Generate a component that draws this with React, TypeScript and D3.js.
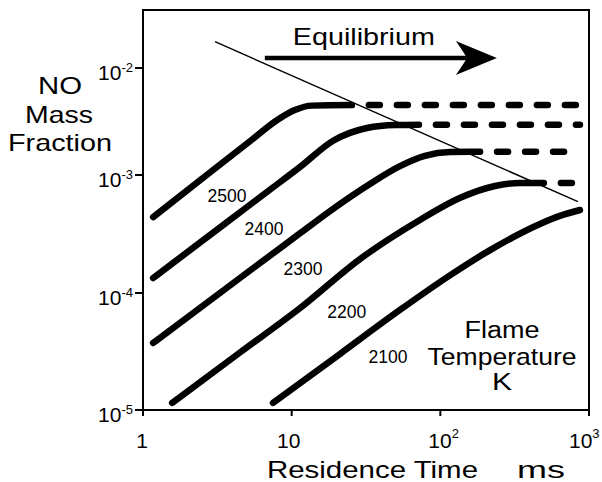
import React from "react";
import * as d3 from "d3";

// NO mass fraction vs residence time (ms), per flame temperature (K)
const temps = ["2500", "2400", "2300", "2200", "2100"];

// kinetic (solid) curves: [time ms, NO mass fraction]
const curve2500: [number, number][] = [
  [1.17, 4.4e-4], [3.05, 1.15e-3], [5.24, 2.07e-3], [8, 3.27e-3], [10.5, 4.05e-3], [13.7, 4.45e-3], [25.4, 4.5e-3],
];
const curve2400: [number, number][] = [
  [1.17, 1.34e-4], [3.62, 3.93e-4], [7.14, 7.5e-4], [11.4, 1.19e-3], [18.9, 2.08e-3], [32.1, 2.75e-3], [50, 2.93e-3], [71.8, 2.95e-3],
];
const curve2300: [number, number][] = [
  [1.17, 3.74e-5], [4.49, 1.34e-4], [11.4, 3.21e-4], [18.1, 4.95e-4], [33.6, 8.4e-4], [53.5, 1.21e-3], [78.7, 1.51e-3], [116, 1.64e-3], [185, 1.65e-3],
];
const curve2200: [number, number][] = [
  [1.57, 1.15e-5], [4.49, 3.1e-5], [11.4, 7.44e-5], [28.8, 1.94e-4], [72.9, 4.16e-4], [135, 6.38e-4], [233, 8.07e-4], [343, 8.55e-4], [497, 8.55e-4],
];
const curve2100: [number, number][] = [
  [7.49, 1.15e-5], [21.1, 3.01e-5], [53.5, 7.16e-5], [116, 1.41e-4], [216, 2.31e-4], [468, 3.85e-4], [637, 4.5e-4], [869, 5.05e-4],
];
const curves = [curve2500, curve2400, curve2300, curve2200, curve2100];

// equilibrium levels (dashed), start and end times
const eqValues = [4.5e-3, 2.95e-3, 1.65e-3, 8.55e-4];
const eqStart = [25.4, 71.8, 185, 497];
const eqEnd = [869, 869, 721, 869];

// thin equilibrium line and arrow
const eqLine: [number, number][] = [[3.05, 1.76e-2], [842, 5.94e-4]];
const arrow: [number, number][] = [[6.6, 1.24e-2], [240, 1.24e-2]];

// curve label anchors (center x, baseline)
const labelPos: [number, number][] = [
  [3.67, 5.9e-4], [6.51, 3.1e-4], [11.9, 1.42e-4], [23.5, 6.1e-5], [44.4, 2.52e-5],
];

const xTicks = [1, 10, 100, 1000];
const xTickBase = ["1", "10", "10", "10"];
const xTickExp = ["", "", "2", "3"];
const yTicks = [1e-5, 1e-4, 1e-3, 1e-2];
const yTickExp = ["-5", "-4", "-3", "-2"];

const W = 602;
const H = 482;
const left = 143;
const right = 589;
const top = 10;
const bottom = 410;
// scanned decades are not quite even
const yDecadePx = [bottom, 293, 175, 68];

const font = "'Liberation Sans', Arial, sans-serif";

export default function App() {
  const x = d3.scaleLog().domain([1, 1000]).range([left, right]);
  const y = d3.scaleLog().domain(yTicks).range(yDecadePx);

  const line = d3
    .line<[number, number]>()
    .x((d) => x(d[0]))
    .y((d) => y(d[1]));

  const tip = [x(arrow[1][0]), y(arrow[1][1])];
  const flameX = x(260);
  const flameY = y(4.12e-5);

  return (
    <svg
      width={W}
      height={H}
      style={{ position: "absolute", left: 0, top: 0, background: "#fff" }}
      fontFamily={font}
    >
      <rect x={left} y={top} width={right - left} height={bottom - top} fill="none" stroke="#000" strokeWidth={2} />

      {/* y ticks */}
      {yTicks.map((t, i) => (
        <g key={"y" + i}>
          <line x1={left - 8} x2={left} y1={y(t)} y2={y(t)} stroke="#000" strokeWidth={2} />
          <text x={left - 10} y={y(t) + 12} textAnchor="end" fontSize={21}>
            10<tspan dy={-8} fontSize={13}>{yTickExp[i]}</tspan>
          </text>
        </g>
      ))}

      {/* x ticks */}
      {xTicks.map((t, i) => (
        <g key={"x" + i}>
          <line x1={x(t)} x2={x(t)} y1={bottom} y2={bottom + 6} stroke="#000" strokeWidth={2} />
          <text
            x={xTickExp[i] ? x(t) - 12 - (i === 3 ? 8 : 0) : x(t) - (i === 1 ? 3 : 1)}
            y={bottom + 38}
            textAnchor={xTickExp[i] ? "start" : "middle"}
            fontSize={21}
          >
            {xTickBase[i]}
            {xTickExp[i] && (
              <tspan dy={-10} fontSize={13}>
                {xTickExp[i]}
              </tspan>
            )}
          </text>
        </g>
      ))}

      {/* thin equilibrium line */}
      <path d={line.curve(d3.curveLinear)(eqLine) || ""} fill="none" stroke="#000" strokeWidth={1.4} />

      {/* kinetic curves */}
      {curves.map((c, i) => (
        <path
          key={"c" + i}
          d={line.curve(d3.curveMonotoneX)(c) || ""}
          fill="none"
          stroke="#000"
          strokeWidth={6.5}
          strokeLinecap="round"
          strokeLinejoin="round"
        />
      ))}

      {/* equilibrium dashed levels */}
      {eqValues.map((v, i) => (
        <line
          key={"e" + i}
          x1={x(eqStart[i])}
          x2={x(eqEnd[i])}
          y1={y(v)}
          y2={y(v)}
          stroke="#000"
          strokeWidth={6.5}
          strokeLinecap="round"
          strokeDasharray="11 17"
          strokeDashoffset={11}
        />
      ))}

      {/* arrow */}
      <line x1={x(arrow[0][0])} x2={tip[0] - 30} y1={y(arrow[0][1])} y2={tip[1]} stroke="#000" strokeWidth={4.5} />
      <path
        d={`M${tip[0]},${tip[1]} L${tip[0] - 41},${tip[1] - 17} Q${tip[0] - 32},${tip[1] - 4} ${tip[0] - 30},${tip[1]} Q${tip[0] - 32},${tip[1] + 4} ${tip[0] - 41},${tip[1] + 17} Z`}
        fill="#000"
      />
      <text x={x(30.6)} y={y(1.64e-2)} textAnchor="middle" fontSize={24} textLength={142} lengthAdjust="spacingAndGlyphs">
        Equilibrium
      </text>

      {/* curve labels */}
      {temps.map((t, i) => (
        <text
          key={"l" + i}
          x={x(labelPos[i][0])}
          y={y(labelPos[i][1])}
          textAnchor="middle"
          fontSize={19}
          textLength={39}
          lengthAdjust="spacingAndGlyphs"
        >
          {t}
        </text>
      ))}

      {/* flame temperature note */}
      <text x={flameX} y={flameY} textAnchor="middle" fontSize={23} textLength={75} lengthAdjust="spacingAndGlyphs">
        Flame
      </text>
      <text x={flameX} y={flameY + 27} textAnchor="middle" fontSize={24} textLength={149} lengthAdjust="spacingAndGlyphs">
        Temperature
      </text>
      <text x={flameX} y={flameY + 52} textAnchor="middle" fontSize={24} textLength={20} lengthAdjust="spacingAndGlyphs">
        K
      </text>

      {/* y title */}
      <text x={60} y={94} textAnchor="middle" fontSize={24} textLength={44} lengthAdjust="spacingAndGlyphs">
        NO
      </text>
      <text x={59} y={123} textAnchor="middle" fontSize={24} textLength={68} lengthAdjust="spacingAndGlyphs">
        Mass
      </text>
      <text x={60} y={151} textAnchor="middle" fontSize={24} textLength={104} lengthAdjust="spacingAndGlyphs">
        Fraction
      </text>

      {/* x title */}
      <text x={267} y={478} fontSize={24} textLength={211} lengthAdjust="spacingAndGlyphs">
        Residence Time
      </text>
      <text x={517} y={478} fontSize={24} textLength={48} lengthAdjust="spacingAndGlyphs">
        ms
      </text>
    </svg>
  );
}
